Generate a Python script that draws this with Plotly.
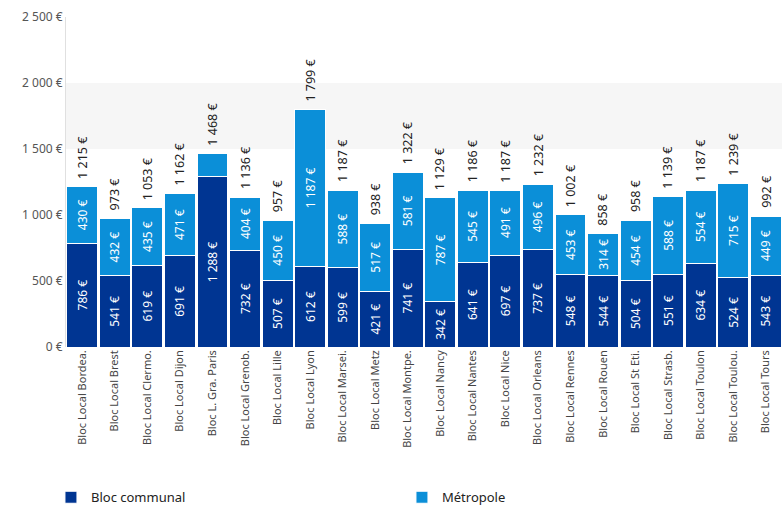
import plotly.graph_objects as go

categories = ["Bloc Local Bordea.", "Bloc Local Brest", "Bloc Local Clermo.", "Bloc Local Dijon",
              "Bloc L. Gra. Paris", "Bloc Local Grenob.", "Bloc Local Lille", "Bloc Local Lyon",
              "Bloc Local Marsei.", "Bloc Local Metz", "Bloc Local Montpe.", "Bloc Local Nancy",
              "Bloc Local Nantes", "Bloc Local Nice", "Bloc Local Orleans", "Bloc Local Rennes",
              "Bloc Local Rouen", "Bloc Local St Eti.", "Bloc Local Strasb.", "Bloc Local Toulon",
              "Bloc Local Toulou.", "Bloc Local Tours"]
bloc_communal = [786, 541, 619, 691, 1288, 732, 507, 612, 599, 421, 741, 342, 641, 697, 737, 548,
                 544, 504, 551, 634, 524, 543]
metropole = [430, 432, 435, 471, 180, 404, 450, 1187, 588, 517, 581, 787, 545, 491, 496, 453,
             314, 454, 588, 554, 715, 449]
totals = [1215, 973, 1053, 1162, 1468, 1136, 957, 1799, 1187, 938, 1322, 1129, 1186, 1187, 1232,
          1002, 858, 958, 1139, 1187, 1239, 992]
y_ticks = [0, 500, 1000, 1500, 2000, 2500]


def fmt(v):
    return "{:,}".format(v).replace(",", " ") + " €"


# Paris metropole segment is unlabeled in the source
metro_text = [fmt(v) if c != "Bloc L. Gra. Paris" else "" for c, v in zip(categories, metropole)]

FONT = "Noto Sans"
fig = go.Figure()
fig.add_trace(go.Bar(
    name="Bloc communal", x=categories, y=bloc_communal,
    marker=dict(color="#003592", line=dict(color="white", width=1)),
    text=[fmt(v) for v in bloc_communal], textposition="inside", textangle=-90,
    insidetextanchor="middle", textfont=dict(color="white", size=12, family=FONT),
    constraintext="none",
))
fig.add_trace(go.Bar(
    name="Métropole", x=categories, y=metropole,
    marker=dict(color="#0b8fd8", line=dict(color="white", width=1)),
    text=metro_text, textposition="inside", textangle=-90,
    insidetextanchor="middle", textfont=dict(color="white", size=12, family=FONT),
    constraintext="none",
))

for c, t in zip(categories, totals):
    fig.add_annotation(x=c, y=t, text=fmt(t), textangle=-90, showarrow=False,
                       xanchor="center", yanchor="bottom", yshift=6,
                       font=dict(size=12.5, color="#222", family=FONT))

fig.add_shape(type="rect", xref="paper", yref="y", x0=0, x1=1, y0=1500, y1=2000,
              fillcolor="#f6f6f6", line=dict(width=0), layer="below")

fig.update_layout(
    width=784, height=508,
    barmode="stack", bargap=0.05,
    plot_bgcolor="white", paper_bgcolor="white",
    margin=dict(l=66, r=2, t=17, b=161, autoexpand=False),
    font=dict(family=FONT, color="#555"),
    showlegend=True,
    legend=dict(orientation="h", x=-0.021, xanchor="left", y=-0.41, yanchor="top",
                entrywidth=306, entrywidthmode="pixels", itemwidth=30,
                font=dict(size=13, color="#222", family=FONT), traceorder="normal"),
    xaxis=dict(tickangle=-90, tickfont=dict(size=11, color="#444", family=FONT),
               showline=False, ticks="", showgrid=False),
    yaxis=dict(range=[0, 2500], tickvals=y_ticks, ticktext=[fmt(v) for v in y_ticks],
               tickfont=dict(size=12, color="#555", family=FONT), showgrid=False,
               zeroline=False, showline=True, linecolor="#e0e0e0", linewidth=1, ticks=""),
    uniformtext=dict(minsize=12, mode="show"),
)

fig.write_html("out.html", config={"displayModeBar": False},
               post_script="document.body.style.margin='0';document.body.style.overflow='hidden';")
